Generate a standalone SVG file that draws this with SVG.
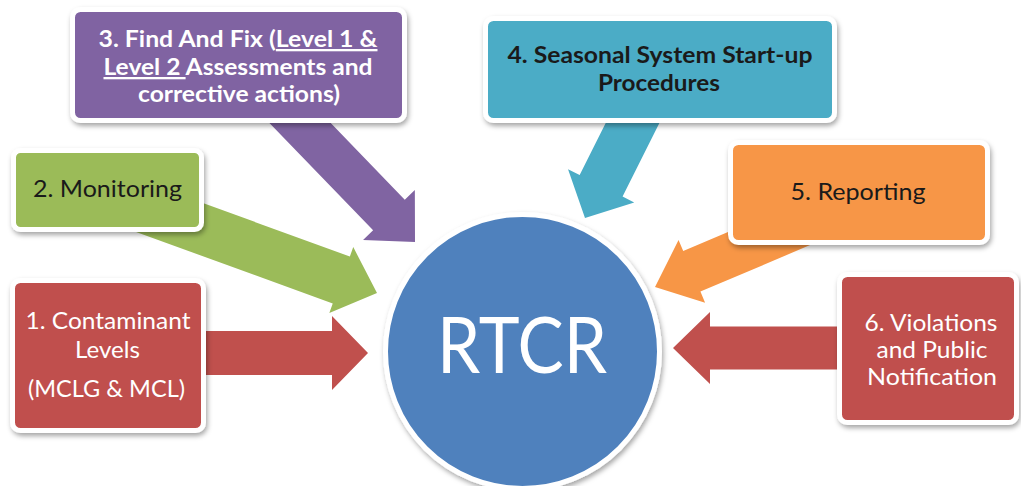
<svg xmlns="http://www.w3.org/2000/svg" width="1021" height="486" viewBox="0 0 1021 486">
<defs>
<filter id="sh" x="-15%" y="-15%" width="135%" height="140%">
<feDropShadow dx="1.5" dy="3" stdDeviation="2.5" flood-color="#000" flood-opacity="0.35"/>
</filter>
<style>
.box{stroke:#fff;stroke-width:5;filter:url(#sh)}
.t{font-family:Lato,"Open Sans","Liberation Sans",sans-serif;font-size:23px;text-anchor:middle}
.w{fill:#fff}
.k{fill:#1a1a1a}
.b{font-weight:bold}
.u{text-decoration:underline}
</style>
</defs>
<rect width="1021" height="486" fill="#fff"/>

<g id="rtcr">
<circle cx="522.5" cy="351.5" r="137" fill="#4f81bd" stroke="#fff" stroke-width="5" filter="url(#sh)"/>
<text x="522" y="373" font-family="Lato,'Open Sans','Liberation Sans',sans-serif" font-size="77" fill="#fff" text-anchor="middle" textLength="170" lengthAdjust="spacingAndGlyphs">RTCR</text>
</g>

<g id="connectors">
<polygon fill="#c0504d" transform="translate(368,353)" points="-173,-22 -36,-22 -36,-37 0,0 -36,37 -36,22 -173,22"/>
<polygon fill="#c0504d" transform="translate(673,348) rotate(180)" points="-172,-21.5 -37,-21.5 -37,-36 0,0 -37,36 -37,21.5 -172,21.5"/>
<polygon fill="#9bbb59" transform="translate(377,293) rotate(20)" points="-270,-25 -38,-25 -38,-35 0,0 -38,35 -38,25 -270,25"/>
<polygon fill="#8064a2" transform="translate(415,242) rotate(46)" points="-200,-22 -37.5,-22 -37.5,-36 0,0 -37.5,36 -37.5,22 -200,22"/>
<polygon fill="#4bacc6" transform="translate(585,218) rotate(116.6)" points="-135,-24 -36,-24 -36,-37 0,0 -36,37 -36,24 -135,24"/>
<polygon fill="#f79646" transform="translate(655,287) rotate(157)" points="-175,-22 -40,-22 -40,-34 0,0 -40,34 -40,22 -175,22"/>
</g>

<g id="n1">
<rect class="box" x="12.5" y="280.5" width="191" height="150" rx="8" fill="#c0504d"/>
<text class="t w" x="108" y="329" textLength="165" lengthAdjust="spacingAndGlyphs">1. Contaminant</text>
<text class="t w" x="107.5" y="358" textLength="65" lengthAdjust="spacingAndGlyphs">Levels</text>
<text class="t w" x="106.5" y="397" textLength="157" lengthAdjust="spacingAndGlyphs">(MCLG &amp; MCL)</text>
</g>

<g id="n2">
<rect class="box" x="13.5" y="150.5" width="188" height="79" rx="7" fill="#9bbb59"/>
<text class="t k" x="107.5" y="197" textLength="149" lengthAdjust="spacingAndGlyphs">2. Monitoring</text>
</g>

<g id="n3">
<rect class="box" x="72.5" y="9.5" width="332" height="111" rx="8" fill="#8064a2"/>
<text class="t w b" x="238" y="47" textLength="279" lengthAdjust="spacingAndGlyphs">3. Find And Fix (<tspan class="u">Level 1 &amp;</tspan></text>
<text class="t w b" x="238" y="75" textLength="269" lengthAdjust="spacingAndGlyphs"><tspan class="u">Level 2 </tspan>Assessments and</text>
<text class="t w b" x="239" y="102" textLength="202" lengthAdjust="spacingAndGlyphs">corrective actions)</text>
</g>

<g id="n4">
<rect class="box" x="485.5" y="18.5" width="349" height="102" rx="8" fill="#4bacc6"/>
<text class="t k b" x="660" y="63" textLength="305" lengthAdjust="spacingAndGlyphs">4. Seasonal System Start-up</text>
<text class="t k b" x="659" y="91" textLength="122" lengthAdjust="spacingAndGlyphs">Procedures</text>
</g>

<g id="n5">
<rect class="box" x="730.5" y="142.5" width="257" height="100" rx="8" fill="#f79646"/>
<text class="t k" x="858" y="200" textLength="135" lengthAdjust="spacingAndGlyphs">5. Reporting</text>
</g>

<g id="n6">
<rect class="box" x="839.5" y="274.5" width="177" height="148" rx="8" fill="#c0504d"/>
<text class="t w" x="931" y="331" textLength="133" lengthAdjust="spacingAndGlyphs">6. Violations</text>
<text class="t w" x="932" y="358" textLength="111" lengthAdjust="spacingAndGlyphs">and Public</text>
<text class="t w" x="932" y="385" textLength="130" lengthAdjust="spacingAndGlyphs">Notification</text>
</g>
</svg>
